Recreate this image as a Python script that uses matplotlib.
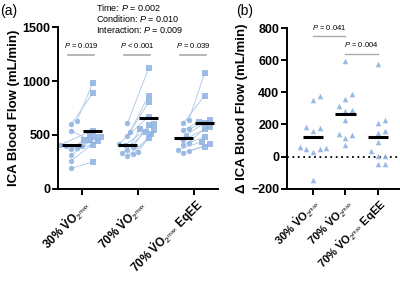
import numpy as np
import matplotlib
matplotlib.use("Agg")
import matplotlib.pyplot as plt

plt.rcParams['font.family'] = ['Liberation Sans', 'DejaVu Sans']
plt.rcParams['mathtext.fontset'] = 'custom'
plt.rcParams['mathtext.rm'] = 'Liberation Sans'
plt.rcParams['mathtext.it'] = 'Liberation Sans:italic'
plt.rcParams['mathtext.bf'] = 'Liberation Sans:bold'

categories = [r'30% $\mathbf{\dot{V}O}_{\mathrm{2}^{\mathrm{max}}}$',
              r'70% $\mathbf{\dot{V}O}_{\mathrm{2}^{\mathrm{max}}}$',
              r'70% $\mathbf{\dot{V}O}_{\mathrm{2}^{\mathrm{max}}}$ EqEE']

pre_30 = [630, 602, 540, 410, 400, 398, 377, 367, 315, 262, 191]
post_30 = [980, 886, 450, 540, 450, 440, 410, 500, 480, 480, 250]
pre_70 = [608, 531, 491, 420, 405, 390, 361, 345, 330, 320, 306]
post_70 = [1117, 864, 803, 670, 600, 590, 560, 550, 530, 510, 469]
pre_eq = [639, 608, 553, 546, 500, 454, 430, 407, 361, 350, 336]
post_eq = [1071, 864, 639, 623, 610, 577, 560, 484, 438, 420, 392]

delta_30 = [375, 350, 187, 179, 158, 62, 54, 48, 48, 27, -146]
delta_70 = [596, 387, 360, 317, 292, 287, 229, 142, 135, 115, 75]
delta_eq = [575, 225, 212, 158, 146, 90, 33, 2, 2, -46, -46]

pvals_a = ['0.019', '< 0.001', '0.039']
header = ['Time: $P$ = 0.002', 'Condition: $P$ = 0.010', 'Interaction: $P$ = 0.009']
pvals_b = ['0.041', '0.004']

BLUE = '#8cb2e0'
LINE = '#a9c6ea'


def swarm(vals, center, px_x, px_y, d):
    vals = np.asarray(vals, float)
    order = np.argsort(vals)
    placed = []
    offs = np.zeros(len(vals))
    for i in order:
        y = vals[i] * px_y
        for k in [0, 1, -1, 2, -2, 3, -3, 4, -4]:
            x = k * d * 0.55
            if all((x - px) ** 2 + (y - py) ** 2 >= d * d for px, py in placed):
                break
        placed.append((x, y))
        offs[i] = x / px_x
    return center + offs


fig = plt.figure(figsize=(4.0, 2.82), dpi=100)
axa = fig.add_axes([0.145, 0.33, 0.40, 0.574])
axb = fig.add_axes([0.7175, 0.331, 0.2825, 0.569])

# Panel a
pres = [pre_30, pre_70, pre_eq]
posts = [post_30, post_70, post_eq]
pxa_x, pxa_y = 56.0, 0.108
for c, (pr, po) in enumerate(zip(pres, posts)):
    xp = swarm(pr, c - 0.19, pxa_x, pxa_y, 5.0)
    xq = swarm(po, c + 0.19, pxa_x, pxa_y, 5.0)
    for i in range(len(pr)):
        axa.plot([xp[i], xq[i]], [pr[i], po[i]], color=LINE, lw=0.6, zorder=1)
    axa.scatter(xp, pr, s=15, marker='o', color=BLUE, alpha=0.85, lw=0, zorder=2)
    axa.scatter(xq, po, s=15, marker='s', color=BLUE, alpha=0.85, lw=0, zorder=2)
    axa.plot([c - 0.19 - 0.17, c - 0.19 + 0.17], [np.mean(pr)] * 2, color='black', lw=2.2, zorder=3, solid_capstyle='butt')
    axa.plot([c + 0.19 - 0.17, c + 0.19 + 0.17], [np.mean(po)] * 2, color='black', lw=2.2, zorder=3, solid_capstyle='butt')
    axa.plot([c - 0.25, c + 0.21], [1240, 1240], color='#aaaaaa', lw=1.2)
    axa.text(c - 0.02, 1330, '$P$ ' + ('= ' if not pvals_a[c].startswith('<') else '') + pvals_a[c],
             ha='center', va='center', fontsize=5.5)

axa.set_xlim(-0.43, 2.43)
axa.set_ylim(0, 1500)
axa.set_yticks([0, 500, 1000, 1500])
axa.set_xticks(range(3))
axa.set_xticklabels(categories, rotation=45, ha='right', rotation_mode='anchor', fontsize=8.5, fontweight='bold')
axa.set_ylabel('ICA Blood Flow (mL/min)', fontsize=9.5, fontweight='bold', labelpad=2)

# Panel b
deltas = [delta_30, delta_70, delta_eq]
pxb_x, pxb_y = 32.5, 0.16
axb.axhline(0, color='black', lw=1.3, ls=(0, (1, 2)), zorder=1)
for c, dl in enumerate(deltas):
    xd = swarm(dl, c, pxb_x, pxb_y, 6.0)
    axb.scatter(xd, dl, s=16, marker='^', color=BLUE, alpha=0.9, lw=0, zorder=2)
    axb.plot([c - 0.32, c + 0.32], [np.mean(dl)] * 2, color='black', lw=2.2, zorder=3, solid_capstyle='butt')

axb.plot([0, 1], [752, 752], color='#aaaaaa', lw=1.0, clip_on=False)
axb.text(0.5, 805, '$P$ = ' + pvals_b[0], ha='center', va='center', fontsize=5.5, clip_on=False)
axb.plot([1, 2], [642, 642], color='#aaaaaa', lw=1.0)
axb.text(1.5, 700, '$P$ = ' + pvals_b[1], ha='center', va='center', fontsize=5.5)

axb.set_xlim(-0.8, 2.68)
axb.set_ylim(-200, 800)
axb.set_yticks([-200, 0, 200, 400, 600, 800])
axb.set_xticks(range(3))
axb.set_xticklabels(categories, rotation=45, ha='right', rotation_mode='anchor', fontsize=8, fontweight='bold')
axb.set_ylabel('Δ ICA Blood Flow (mL/min)', fontsize=9.5, fontweight='bold', labelpad=2)

for ax in (axa, axb):
    for s in ('top', 'right'):
        ax.spines[s].set_visible(False)
    for s in ('left', 'bottom'):
        ax.spines[s].set_linewidth(1.4)
    ax.tick_params(width=1.4, length=4, labelsize=9, pad=1.5)
    for lab in ax.get_yticklabels():
        lab.set_fontweight('bold')
axa.tick_params(axis='x', labelsize=8.5)
axb.tick_params(axis='x', labelsize=8)

for i, h in enumerate(header):
    fig.text(0.24, 0.975 - i * 0.039, h, ha='left', va='center', fontsize=6.5)

fig.text(0.0, 0.96, '(a)', fontsize=10, va='center', ha='left')
fig.text(0.59, 0.96, '(b)', fontsize=10, va='center', ha='left')

fig.savefig('out.png', dpi=100)
